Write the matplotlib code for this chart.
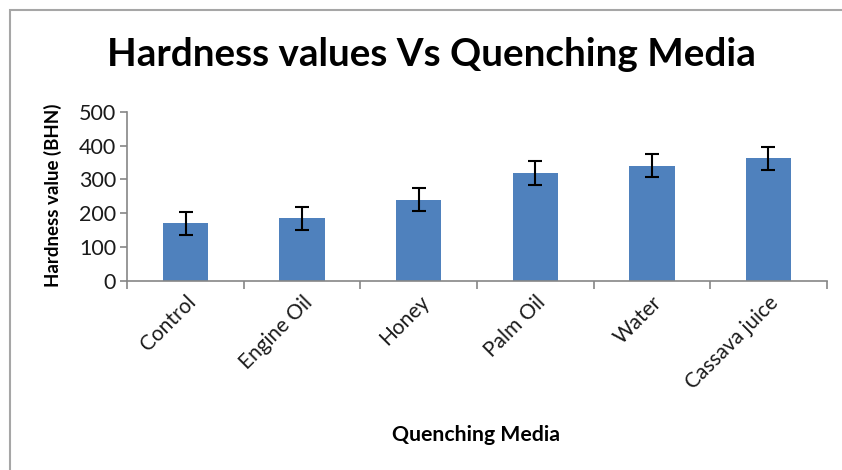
import matplotlib
matplotlib.use('Agg')
import matplotlib.pyplot as plt
import numpy as np
from matplotlib.patches import Rectangle

media = ['Control', 'Engine Oil', 'Honey', 'Palm Oil', 'Water', 'Cassava juice']
hardness = [170, 186, 240, 319, 340, 362]
errors = [34, 34, 34, 34, 34, 35]

plt.rcParams['font.family'] = ['Lato', 'DejaVu Sans']

fig = plt.figure(figsize=(8.42, 4.70), dpi=100)
fig.patches.append(Rectangle((10 / 842, -0.1), 1.2, 1 - 10 / 470 + 0.1, transform=fig.transFigure,
                             fill=False, edgecolor='#a6a6a6', linewidth=1.5))

ax = fig.add_axes([0.1512, 0.4021, 0.8306, 0.3602])
x = np.arange(len(media))
ax.bar(x, hardness, width=0.39, color='#4f81bd', zorder=2)
ax.errorbar(x, hardness, yerr=errors, fmt='none', ecolor='black', elinewidth=1.5,
            capsize=5, capthick=1.5, zorder=3)

ax.set_xlim(-0.5, len(media) - 0.5)
ax.set_ylim(0, 500)
ax.set_yticks(range(0, 501, 100))
ax.set_xticks(np.arange(-0.5, len(media)), minor=False)
ax.set_xticklabels([])
ax.set_xticks(x, minor=True)
ax.set_xticklabels(media, minor=True, rotation=45, ha='right', rotation_mode='anchor',
                   fontsize=15, color='#1a1a1a')
ax.tick_params(axis='x', which='minor', length=0, pad=8)
ax.tick_params(axis='x', which='major', length=6, color='#868686', width=1.2)
ax.tick_params(axis='y', length=5, color='#868686', width=1.2, labelsize=15.5,
               labelcolor='#1a1a1a', pad=3)

for s in ['top', 'right']:
    ax.spines[s].set_visible(False)
for s in ['left', 'bottom']:
    ax.spines[s].set_color('#868686')
    ax.spines[s].set_linewidth(1.2)

fig.text(0.512, 0.883, 'Hardness values Vs Quenching Media', ha='center', va='center',
         fontsize=27.8, fontweight='bold')
fig.text(0.565, 0.0745, 'Quenching Media', ha='center', va='center', fontsize=15.3,
         fontweight='bold')
fig.text(0.063, 0.585, 'Hardness value (BHN)', ha='center', va='center', rotation=90,
         fontsize=13.5, fontweight='bold')

fig.savefig('out.png', dpi=100)
